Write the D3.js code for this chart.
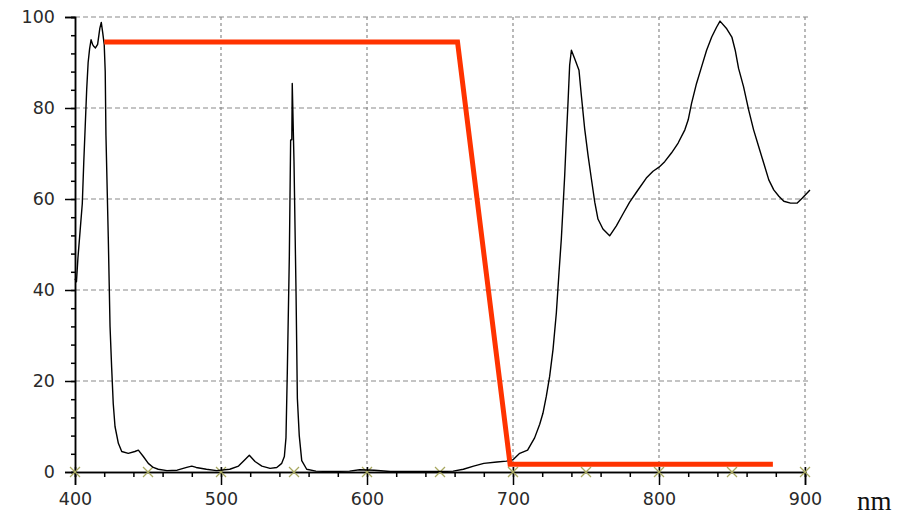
<!DOCTYPE html>
<html>
<head>
<meta charset="utf-8">
<script src="https://cdn.jsdelivr.net/npm/d3@7"></script>
<style>
  html, body { margin: 0; padding: 0; background: #fff; }
  svg { display: block; }
  .tick text { font-family: "DejaVu Sans", sans-serif; font-size: 17.5px; fill: #2a2a2a; }
</style>
</head>
<body>
<svg id="chart" width="908" height="517"></svg>
<script>
// ---- data ----
const spectrumNm = [400, 401, 402, 403.5, 405, 406, 407, 408, 409, 410, 411, 412, 413, 414, 415.5, 417, 418, 419, 420, 420.7, 421.2, 422.8, 424, 425.1, 426.2, 427.4, 429.7, 432, 436.5, 441, 443.4, 446.8, 450.2, 453.6, 457, 463, 470, 476.5, 480, 483, 490, 497, 506, 512, 516, 519.4, 523.3, 528, 533.6, 538.2, 541.6, 543.4, 544.5, 545.4, 546.8, 547.7, 548.5, 548.8, 550, 551.4, 552.3, 553.6, 555.3, 558.7, 565, 575, 588, 595, 605, 616, 650, 659, 666, 673, 680, 689, 695.5, 700, 704.6, 710, 714.8, 718.3, 720.5, 722.8, 725.1, 727.4, 729.7, 731.5, 733.1, 734.2, 735.4, 736.5, 737.7, 738.8, 740, 742.2, 745.2, 746.8, 749.1, 751.4, 753.7, 756, 758.2, 761.6, 766.2, 770.8, 775.3, 779.9, 785, 791.3, 795.9, 800, 803.9, 808.5, 813.1, 817.7, 820, 822.3, 825.7, 829.2, 832.6, 836.1, 839.5, 841.8, 846.4, 849.9, 852.2, 854.5, 857.9, 861.4, 864.8, 868.3, 871.7, 875.2, 878.6, 882.1, 885.5, 890.1, 894.7, 898.2, 903.4];
const spectrumT = [42.5, 41.8, 47, 53, 59, 68, 76, 84, 90, 93, 95, 94, 93.5, 93.2, 94, 97.5, 98.8, 96.5, 94, 88, 74, 51.5, 32, 23, 15, 10, 6.3, 4.5, 4.1, 4.5, 4.8, 3.4, 1.9, 1.0, 0.6, 0.3, 0.4, 1.0, 1.3, 1.0, 0.6, 0.3, 0.6, 1.3, 2.6, 3.7, 2.3, 1.3, 0.8, 1.0, 1.9, 3.4, 7.5, 21.7, 47.3, 73, 73, 85.4, 68.2, 39.3, 16.2, 8, 2.5, 0.6, 0.2, 0.1, 0.2, 0.5, 0.4, 0.1, 0.1, 0.2, 0.6, 1.3, 1.9, 2.2, 2.4, 2.7, 4.1, 4.8, 7.5, 10.5, 12.9, 16.6, 21, 26.9, 35, 43.8, 51.2, 57.8, 65.1, 73.2, 81.3, 89.4, 92.7, 90.9, 88.3, 82.8, 75.4, 69.6, 64.4, 59.3, 55.6, 53.4, 51.9, 54.1, 56.7, 59.3, 61.7, 64.6, 66.1, 67, 68.2, 70.1, 72.3, 75.2, 77.4, 81, 85.4, 89.1, 92.7, 95.6, 97.8, 99.1, 97.4, 95.6, 92.7, 88.7, 84.7, 79.6, 75.2, 71.5, 67.9, 64.2, 62, 60.6, 59.5, 59.1, 59.1, 60.2, 62];

const filterNm = [420, 662, 698, 878];
const filterT = [94.5, 94.5, 1.7, 1.7];

const xTickValues = [400, 500, 600, 700, 800, 900];
const yTickValues = [0, 20, 40, 60, 80, 100];
const markerNm = [400, 450, 500, 550, 600, 650, 700, 750, 800, 850, 900];
const unitLabel = "nm";

// ---- layout ----
const svg = d3.select("#chart");
const x = d3.scaleLinear().domain([400, 900]).range([75, 805]);
const y = d3.scaleLinear().domain([0, 100]).range([472, 17]);

// grid
const grid = svg.append("g");
grid.selectAll("line.h").data(yTickValues.filter(v => v > 0)).enter().append("line")
  .attr("x1", x(400)).attr("x2", x(904))
  .attr("y1", d => y(d)).attr("y2", d => y(d))
  .attr("stroke", "#8a8a8a").attr("stroke-width", 1.2).attr("stroke-dasharray", "5,3");
grid.selectAll("line.v").data(xTickValues.filter(v => v > 400)).enter().append("line")
  .attr("x1", d => x(d)).attr("x2", d => x(d))
  .attr("y1", y(100)).attr("y2", y(0))
  .attr("stroke", "#8a8a8a").attr("stroke-width", 1.2).attr("stroke-dasharray", "3,3");

// axes
const yMinor = svg.append("g").attr("transform", `translate(${x(400)},0)`)
  .call(d3.axisLeft(y).tickValues(d3.range(0, 101, 4)).tickSize(4).tickFormat(""));
const yMajor = svg.append("g").attr("transform", `translate(${x(400)},0)`)
  .call(d3.axisLeft(y).tickValues(yTickValues).tickSize(10).tickPadding(10));
const xMinor = svg.append("g").attr("transform", `translate(0,${y(0)})`)
  .call(d3.axisBottom(x).tickValues(d3.range(400, 901, 20)).tickSize(5).tickFormat(""));
const xMajor = svg.append("g").attr("transform", `translate(0,${y(0)})`)
  .call(d3.axisBottom(x).tickValues(xTickValues).tickSize(13).tickPadding(8));

[yMinor, yMajor, xMinor, xMajor].forEach(g => {
  g.selectAll("path.domain").attr("stroke", "#000").attr("stroke-width", 1.5);
  g.selectAll(".tick line").attr("stroke", "#000").attr("stroke-width", 1.5);
});
xMajor.selectAll(".tick line").attr("y1", -5);

// x markers (crosses)
const mk = svg.append("g");
markerNm.forEach(v => {
  const cx = x(v), cy = y(0);
  mk.append("line").attr("x1", cx - 5).attr("y1", cy - 5).attr("x2", cx + 5).attr("y2", cy + 5)
    .attr("stroke", "#a8a860").attr("stroke-width", 1.3);
  mk.append("line").attr("x1", cx - 5).attr("y1", cy + 5).attr("x2", cx + 5).attr("y2", cy - 5)
    .attr("stroke", "#a8a860").attr("stroke-width", 1.3);
});

// spectrum curve
const spec = spectrumNm.map((n, i) => [n, spectrumT[i]]);
svg.append("path").datum(spec)
  .attr("fill", "none").attr("stroke", "#000").attr("stroke-width", 1.4)
  .attr("stroke-linejoin", "round")
  .attr("d", d3.line().x(d => x(d[0])).y(d => y(d[1])));

// filter line
const filt = filterNm.map((n, i) => [n, filterT[i]]);
svg.append("path").datum(filt)
  .attr("fill", "none").attr("stroke", "#ff3300").attr("stroke-width", 5)
  .attr("stroke-linejoin", "miter")
  .attr("d", d3.line().x(d => x(d[0])).y(d => y(d[1])));

// unit label
svg.append("text").attr("x", 857).attr("y", 510)
  .attr("font-family", "'Liberation Serif', 'Times New Roman', serif")
  .attr("font-size", 27).attr("fill", "#111").text(unitLabel);
</script>
</body>
</html>
